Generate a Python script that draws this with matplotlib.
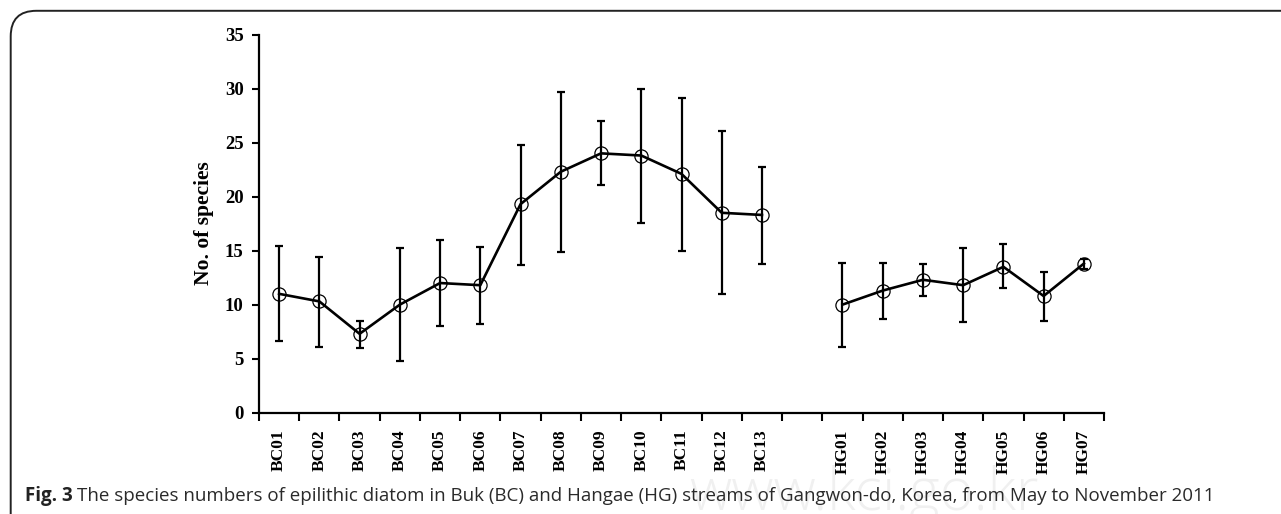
import numpy as np
import matplotlib.pyplot as plt
from matplotlib.patches import FancyBboxPatch

# Sites (BC = Buk stream, HG = Hangae stream)
bc_sites = ['BC01', 'BC02', 'BC03', 'BC04', 'BC05', 'BC06', 'BC07',
            'BC08', 'BC09', 'BC10', 'BC11', 'BC12', 'BC13']
hg_sites = ['HG01', 'HG02', 'HG03', 'HG04', 'HG05', 'HG06', 'HG07']

# Mean species number and error bar ends
bc_mean = [11.0, 10.3, 7.3, 10.0, 12.0, 11.8, 19.3, 22.3, 24.0, 23.8, 22.1, 18.5, 18.3]
bc_upper = [15.4, 14.4, 8.5, 15.2, 16.0, 15.3, 24.8, 29.7, 27.0, 30.0, 29.1, 26.1, 22.7]
bc_lower = [6.6, 6.1, 6.0, 4.8, 8.0, 8.2, 13.7, 14.9, 21.1, 17.6, 15.0, 11.0, 13.8]

hg_mean = [10.0, 11.3, 12.3, 11.8, 13.5, 10.8, 13.8]
hg_upper = [13.9, 13.9, 13.8, 15.2, 15.6, 13.0, 14.2]
hg_lower = [6.1, 8.7, 10.8, 8.4, 11.5, 8.5, 13.3]

serif = 'Liberation Serif'

fig = plt.figure(figsize=(12.81, 5.14), dpi=100)

# faint watermark, behind everything
fig.text(0.538, -0.02, 'www.kci.go.kr', fontsize=42, color='#f0f0f0',
         fontfamily='Open Sans', fontweight='light', ha='left', va='bottom',
         zorder=-5)

ax = fig.add_axes([259 / 1281, 1 - 412.7 / 514, (1104 - 259) / 1281, (412.7 - 34.5) / 514])
ax.patch.set_alpha(0)

n_bc = len(bc_sites)
x_bc = np.arange(n_bc) + 0.5
x_hg = np.arange(len(hg_sites)) + n_bc + 1.5

for xs, m, up, lo in [(x_bc, bc_mean, bc_upper, bc_lower),
                      (x_hg, hg_mean, hg_upper, hg_lower)]:
    m = np.array(m)
    yerr = [m - np.array(lo), np.array(up) - m]
    ax.errorbar(xs, m, yerr=yerr, fmt='none', ecolor='black', elinewidth=1.6,
                capsize=3.2, capthick=1.6, zorder=2)
    ax.plot(xs, m, color='black', lw=1.9, marker='o', markersize=9.5,
            markerfacecolor='none', markeredgecolor='black', markeredgewidth=0.9,
            zorder=3)

ax.set_xlim(0, 21)
ax.set_ylim(0, 35)
ax.set_yticks(np.arange(0, 36, 5))

# boundaries carry the tick marks, centres carry the labels
ax.set_xticks(np.arange(0, 22), minor=True)
ax.set_xticks(np.concatenate([x_bc, x_hg]))
ax.set_xticklabels(bc_sites + hg_sites, rotation=90, fontfamily=serif,
                   fontweight='bold', fontsize=12.5)
ax.tick_params(axis='x', which='major', length=0, pad=12)
ax.tick_params(axis='x', which='minor', length=6, width=1.5, direction='out')
ax.tick_params(axis='y', length=5, width=1.5, direction='out', pad=6)
for lab in ax.get_yticklabels():
    lab.set_fontfamily(serif)
    lab.set_fontweight('bold')
    lab.set_fontsize(13.5)

for s in ['top', 'right']:
    ax.spines[s].set_visible(False)
for s in ['left', 'bottom']:
    ax.spines[s].set_linewidth(1.6)

ax.set_ylabel('No. of species', fontfamily=serif, fontweight='bold', fontsize=15.5,
              labelpad=8)

# Rounded frame around the figure panel (right and bottom run off the image)
frame = FancyBboxPatch((10.7 / 1281, -0.05), 1.2, 0.979 + 0.05,
                       boxstyle='round,pad=0,rounding_size=0.02',
                       transform=fig.transFigure, fill=False, edgecolor='#222222',
                       lw=1.4, mutation_aspect=1281 / 514)
fig.patches.append(frame)

# caption
fig.text(25 / 1281, 1 - 496 / 514, 'Fig. 3', fontfamily='Open Sans',
         fontweight='bold', fontsize=13.5, va='center', ha='left', color='#222222')
fig.text(77 / 1281, 1 - 496 / 514,
         'The species numbers of epilithic diatom in Buk (BC) and Hangae (HG) '
         'streams of Gangwon-do, Korea, from May to November 2011',
         fontfamily='Open Sans', fontsize=13.5, va='center', ha='left',
         color='#2a2a2a')

fig.savefig('out.png', dpi=100, facecolor='white')
